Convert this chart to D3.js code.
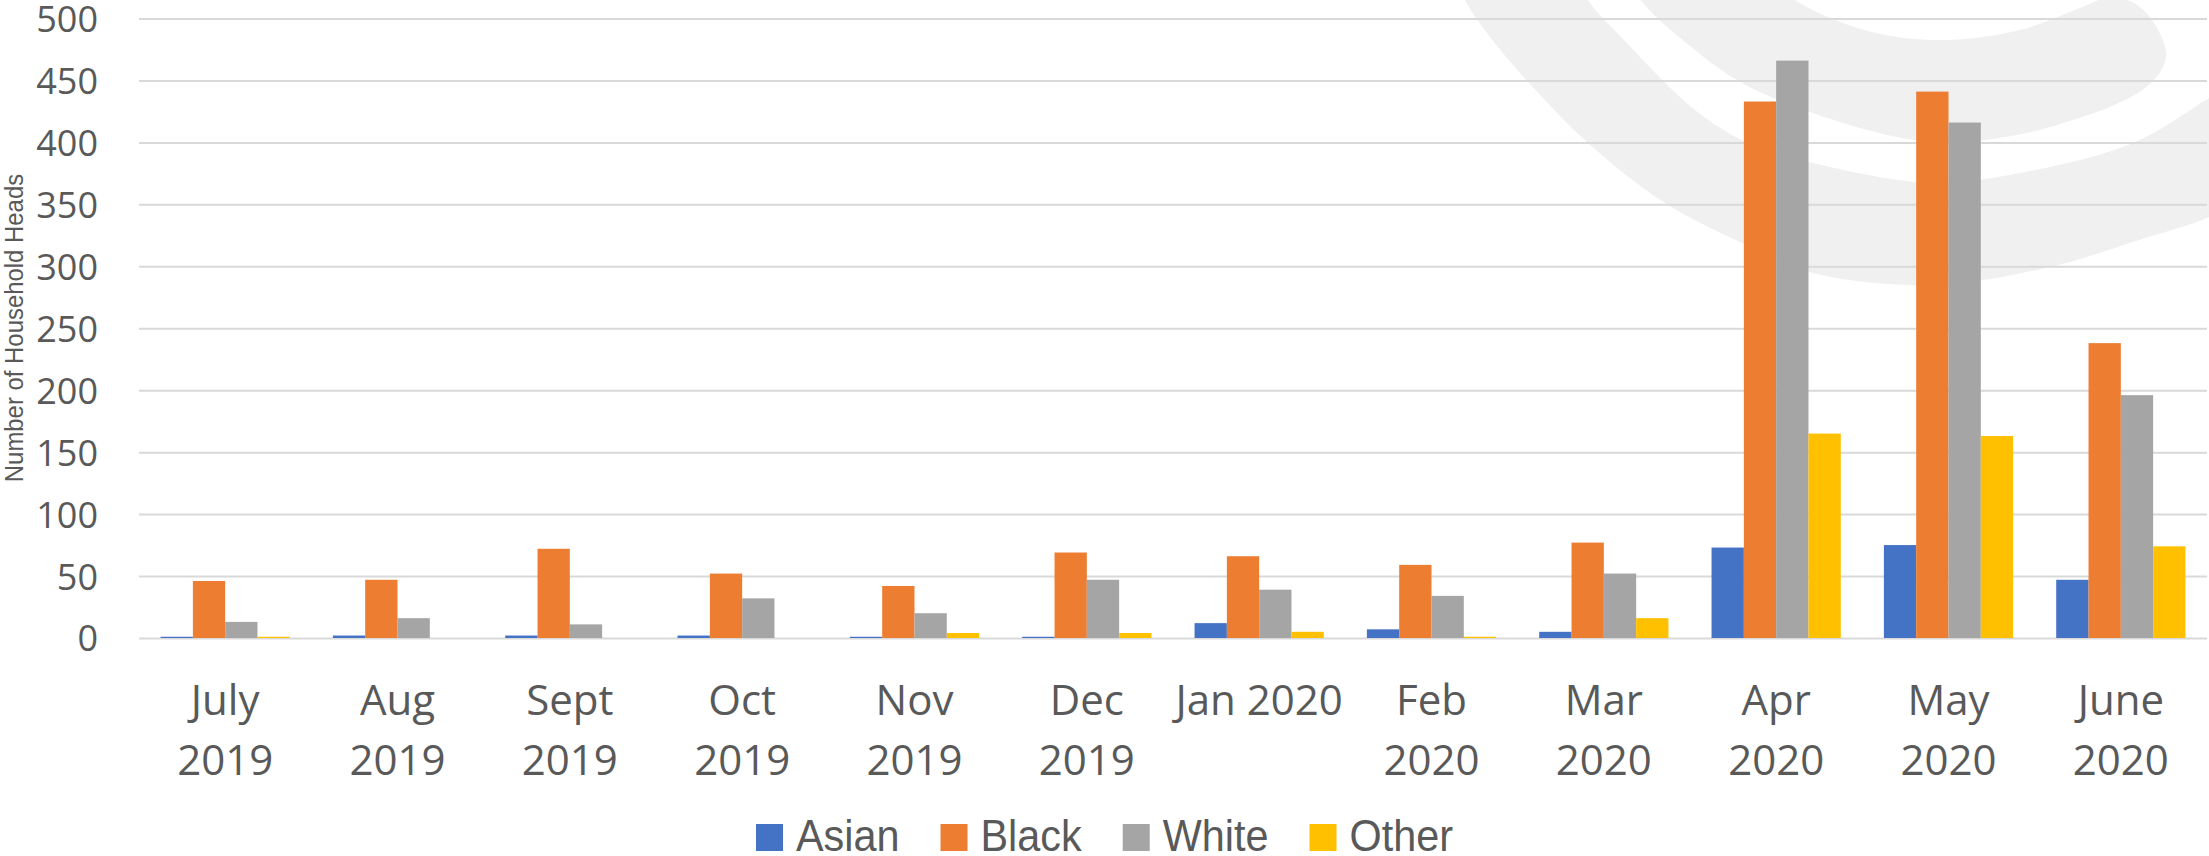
<!DOCTYPE html>
<html>
<head>
<meta charset="utf-8">
<script src="https://cdn.jsdelivr.net/npm/d3@7/dist/d3.min.js"></script>
<style>
  html, body { margin: 0; padding: 0; background: #ffffff; }
  svg { display: block; }
</style>
</head>
<body>
<svg id="chart" width="2209" height="856"></svg>
<script>
// ---- data ----
const categories = ["July 2019","Aug 2019","Sept 2019","Oct 2019","Nov 2019","Dec 2019","Jan 2020","Feb 2020","Mar 2020","Apr 2020","May 2020","June 2020"];
const labelLine1 = ["July","Aug","Sept","Oct","Nov","Dec","Jan 2020","Feb","Mar","Apr","May","June"];
const labelLine2 = ["2019","2019","2019","2019","2019","2019","","2020","2020","2020","2020","2020"];
const seriesNames = ["Asian","Black","White","Other"];
const asian = [1, 2, 2, 2, 1, 1, 12, 7, 5, 73, 75, 47];
const black = [46, 47, 72, 52, 42, 69, 66, 59, 77, 433, 441, 238];
const white = [13, 16, 11, 32, 20, 47, 39, 34, 52, 466, 416, 196];
const other = [1, 0, 0, 0, 4, 4, 5, 1, 16, 165, 163, 74];
const yTicks = [0, 50, 100, 150, 200, 250, 300, 350, 400, 450, 500];
const yTitle = "Number of Household Heads";

// ---- styles ----
const colors = { Asian: "#4472C4", Black: "#ED7D31", White: "#A5A5A5", Other: "#FFC000" };
const textColor = "#595959";
const gridColor = "#d9d9d9";
const W = 2209, H = 856;
const plot = { left: 139, right: 2207, top: 18.5, bottom: 638 };
const narrowFont = "'Liberation Sans', Arial, sans-serif";

const seriesValues = { Asian: asian, Black: black, White: white, Other: other };
const table = categories.map((c, i) => {
  const row = { category: c };
  seriesNames.forEach(s => row[s] = seriesValues[s][i]);
  return row;
});

const svg = d3.select("#chart");
svg.append("rect").attr("width", W).attr("height", H).attr("fill", "#ffffff");

// ---- background watermark (decorative) ----
const wm = svg.append("g").attr("fill", "#f0f0f0");
const closedCurve = d3.line().curve(d3.curveCatmullRomClosed.alpha(0.5));
const bandA = [[1455,-30],[1465,0],[1487,33],[1529,83],[1588,143],[1665,203],[1742,243],[1813,273],[1932,285],[2050,267],[2139,240],[2209,217],[2245,195],[2245,75],[2209,98],[2133,143],[2020,173],[1932,183],[1813,163],[1748,143],[1695,110],[1624,40],[1588,0],[1576,-30]];
const blob = [[1628,-30],[1641,0],[1695,50],[1742,83],[1813,113],[1902,138],[1961,142],[2050,127],[2145,88],[2166,57],[2152,20],[2132,2],[2110,-3],[2080,8],[2020,30],[1943,40],[1872,32],[1795,0],[1765,-30]];
wm.append("path").attr("d", closedCurve(bandA));
wm.append("path").attr("d", closedCurve(blob));

// ---- scales ----
const x0 = d3.scaleBand().domain(categories).range([plot.left, plot.right]).paddingInner(0).paddingOuter(0);
const x1 = d3.scaleBand().domain(seriesNames).range([0, x0.bandwidth()]).paddingInner(0).paddingOuter(0.667);
const y = d3.scaleLinear().domain([0, 500]).range([plot.bottom, plot.top]);

// ---- gridlines ----
const yAxis = d3.axisLeft(y).tickValues(yTicks).tickSize(-(plot.right - plot.left)).tickFormat(d3.format("d")).tickPadding(41);
const gAxis = svg.append("g").attr("transform", `translate(${plot.left},0)`).call(yAxis);
gAxis.select(".domain").remove();
gAxis.selectAll(".tick line").attr("stroke", gridColor).attr("stroke-width", 2);
gAxis.selectAll(".tick text")
  .attr("fill", textColor)
  .attr("font-family", "'Open Sans', sans-serif")
  .attr("font-size", 36)
  .attr("dy", "0.36em");

// ---- bars ----
const groups = svg.append("g").selectAll("g").data(table).join("g")
  .attr("transform", d => `translate(${x0(d.category)},0)`);
groups.selectAll("rect")
  .data(d => seriesNames.map(s => ({ key: s, value: d[s] })))
  .join("rect")
  .attr("x", d => x1(d.key))
  .attr("width", x1.bandwidth())
  .attr("y", d => y(d.value))
  .attr("height", d => y(0) - y(d.value))
  .attr("fill", d => colors[d.key]);

// ---- x labels ----
const xl = svg.append("g")
  .attr("fill", textColor)
  .attr("font-family", "'Open Sans', sans-serif")
  .attr("font-size", 42)
  .attr("text-anchor", "middle");
categories.forEach((c, i) => {
  const cx = x0(c) + x0.bandwidth() / 2;
  xl.append("text").attr("x", cx).attr("y", 715).text(labelLine1[i]);
  if (labelLine2[i]) xl.append("text").attr("x", cx).attr("y", 775).text(labelLine2[i]);
});

// ---- y title (condensed look) ----
svg.append("text")
  .attr("transform", "translate(23,328) rotate(-90) scale(0.92,1)")
  .attr("text-anchor", "middle")
  .attr("fill", textColor)
  .attr("font-family", narrowFont)
  .attr("font-size", 26)
  .text(yTitle);

// ---- legend (condensed look) ----
const legend = svg.append("g")
  .attr("font-family", narrowFont)
  .attr("font-size", 45)
  .attr("fill", textColor);
const sw = 27, gapText = 13, gapItem = 41, squeeze = 0.92;
let cursor = 0;
seriesNames.forEach(s => {
  const g = legend.append("g");
  g.append("rect").attr("x", 0).attr("y", 824).attr("width", sw).attr("height", sw).attr("fill", colors[s]);
  const t = g.append("text")
    .attr("transform", `translate(${sw + gapText},851) scale(${squeeze},1)`)
    .text(s);
  const tw = t.node().getComputedTextLength() * squeeze;
  g.attr("transform", `translate(${cursor},0)`);
  cursor += sw + gapText + tw + gapItem;
});
const legendWidth = cursor - gapItem;
legend.attr("transform", `translate(${(W - legendWidth) / 2},0)`);
</script>
</body>
</html>
